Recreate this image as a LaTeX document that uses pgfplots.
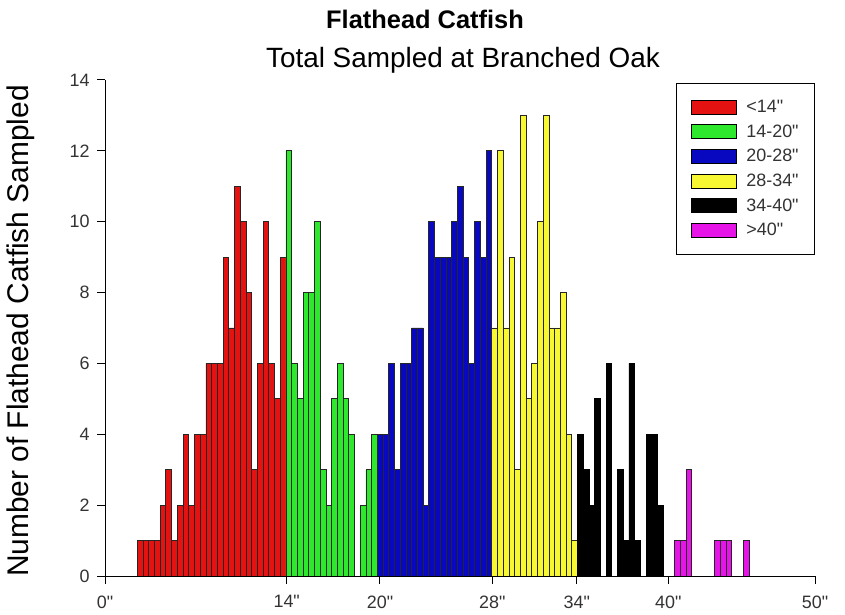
\documentclass[border=0pt]{standalone}
\usepackage{fontspec}
\setmainfont{Liberation Sans}[Ligatures=TeXOff]
\usepackage{pgfplots}
\pgfplotsset{compat=1.18}
\definecolor{cRed}{HTML}{E51212}
\definecolor{cGreen}{HTML}{2EE82E}
\definecolor{cBlue}{HTML}{0808C0}
\definecolor{cYellow}{HTML}{F8F832}
\definecolor{cMag}{HTML}{E614E6}
\definecolor{tickgray}{HTML}{333333}
\begin{document}
\begin{tikzpicture}
\useasboundingbox (0,0) rectangle (845bp,615bp);
\begin{axis}[
  at={(105bp,39bp)}, anchor=south west,
  scale only axis, width=710bp, height=496bp,
  xmin=-5.65, xmax=118.54, ymin=0, ymax=14,
  axis x line=bottom, axis y line=left,
  axis line style={-, line width=1bp, black},
  xtick={-5.65,26.13,42.45,62.1,76.86,92.88,118.54},
  xticklabels={0",14",20",28",34",40",50"},
  ytick={0,2,...,14},
  tick align=outside, major tick length=8bp,
  minor tick num=0,
  tick style={black, line width=1bp},
  /pgf/number format/assume math mode=true,
  ticklabel style={font=\fontsize{18}{18}\selectfont, text=tickgray},
  xticklabel style={yshift=-8bp},
  yticklabel style={xshift=-4bp},
  legend style={at={(1,0.994)}, anchor=north east, draw=black, line width=0.8bp,
    font=\fontsize{18}{18}\selectfont, text=tickgray,
    inner xsep=14bp, inner ysep=15bp, row sep=6.6bp,
    /tikz/every odd column/.append style={column sep=8bp}},
  legend cell align=left,
  legend image code/.code={\draw[#1,draw=black,line width=0.8bp] (0bp,-7bp) rectangle (45bp,7bp);},
]
\addplot[ybar, bar width=1, bar shift=0pt, fill=cRed, draw=black!85, line width=0.8bp] coordinates {
(0.5,1) (1.5,1) (2.5,1) (3.5,1) (4.5,2) (5.5,3) (6.5,1) (7.5,2) (8.5,4) (9.5,2) (10.5,4) (11.5,4) (12.5,6) (13.5,6) (14.5,6) (15.5,9) (16.5,7) (17.5,11) (18.5,10) (19.5,8) (20.5,3) (21.5,6) (22.5,10) (23.5,6) (24.5,5) (25.5,9)};
\addlegendentry{<14"}
\addplot[ybar, bar width=1, bar shift=0pt, fill=cGreen, draw=black!85, line width=0.8bp] coordinates {
(26.5,12) (27.5,6) (28.5,5) (29.5,8) (30.5,8) (31.5,10) (32.5,3) (33.5,2) (34.5,5) (35.5,6) (36.5,5) (37.5,4) (39.5,2) (40.5,3) (41.5,4)};
\addlegendentry{14-20"}
\addplot[ybar, bar width=1, bar shift=0pt, fill=cBlue, draw=black!85, line width=0.8bp] coordinates {
(42.5,4) (43.5,4) (44.5,6) (45.5,3) (46.5,6) (47.5,6) (48.5,7) (49.5,7) (50.5,2) (51.5,10) (52.5,9) (53.5,9) (54.5,9) (55.5,10) (56.5,11) (57.5,9) (58.5,6) (59.5,10) (60.5,9) (61.5,12)};
\addlegendentry{20-28"}
\addplot[ybar, bar width=1, bar shift=0pt, fill=cYellow, draw=black!85, line width=0.8bp] coordinates {
(62.5,7) (63.5,12) (64.5,7) (65.5,9) (66.5,3) (67.5,13) (68.5,5) (69.5,6) (70.5,10) (71.5,13) (72.5,7) (73.5,7) (74.5,8) (75.5,4) (76.5,1)};
\addlegendentry{28-34"}
\addplot[ybar, bar width=1, bar shift=0pt, fill=black, draw=black, line width=0.8bp] coordinates {
(77.5,4) (78.5,3) (79.5,2) (80.5,5) (82.5,6) (84.5,3) (85.5,1) (86.5,6) (87.5,1) (89.5,4) (90.5,4) (91.5,2)};
\addlegendentry{34-40"}
\addplot[ybar, bar width=1, bar shift=0pt, fill=cMag, draw=black!85, line width=0.8bp] coordinates {
(94.5,1) (95.5,1) (96.5,3) (101.5,1) (102.5,1) (103.5,1) (106.5,1)};
\addlegendentry{>40"}
\end{axis}
\node[font=\fontsize{25.5}{25.5}\selectfont\bfseries, anchor=base] at (425bp,586bp) {Flathead Catfish};
\node[font=\fontsize{28}{28}\selectfont, anchor=base] at (463bp,547bp) {Total Sampled at Branched Oak};
\node[font=\fontsize{30}{30}\selectfont, rotate=90, anchor=base] at (28.5bp,284bp) {Number of Flathead Catfish Sampled};
\end{tikzpicture}
\end{document}
